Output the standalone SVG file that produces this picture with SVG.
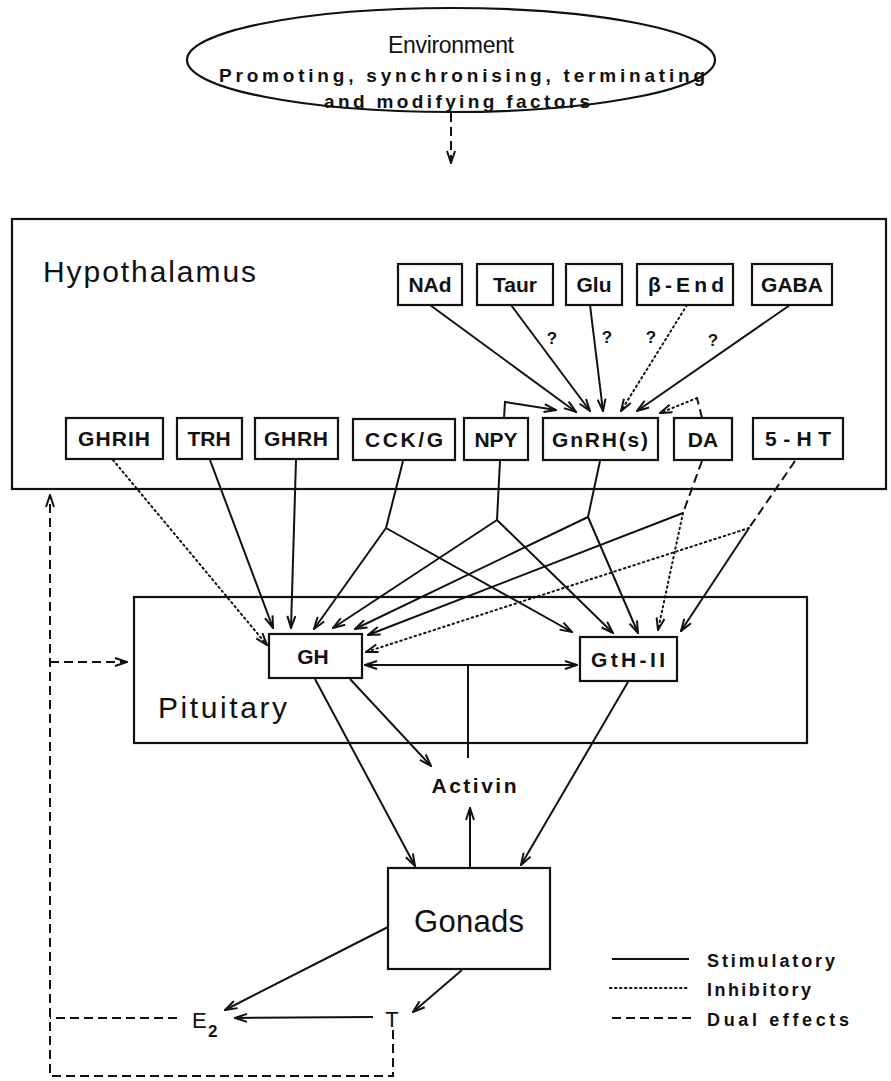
<svg xmlns="http://www.w3.org/2000/svg" width="891" height="1081" viewBox="0 0 891 1081">
<defs>
<style>
.bx{fill:#fff;stroke:#111;stroke-width:2.2}
.fr{fill:none;stroke:#111;stroke-width:2.2}
.lb{font-family:"Liberation Sans",Arial,sans-serif;font-weight:bold;font-size:21px;fill:#111;text-anchor:middle}
.big{font-family:"Liberation Sans",Arial,sans-serif;font-size:30px;fill:#111}
.s{fill:none;stroke:#111;stroke-width:2}
.d{fill:none;stroke:#111;stroke-width:2;stroke-dasharray:1.5 3.5;stroke-linecap:round}
.ds{fill:none;stroke:#111;stroke-width:2;stroke-dasharray:9 5}
.q{font-family:"Liberation Sans",Arial,sans-serif;font-weight:bold;font-size:17px;fill:#111;text-anchor:middle}
.lg{font-family:"Liberation Sans",Arial,sans-serif;font-weight:bold;font-size:18px;fill:#111}
</style>
<marker id="a" viewBox="0 0 14 10" refX="13" refY="5" markerWidth="14" markerHeight="10" markerUnits="userSpaceOnUse" orient="auto-start-reverse">
<path d="M1,1 L13,5 L1,9" fill="none" stroke="#111" stroke-width="2"/>
</marker>
</defs>
<rect width="891" height="1081" fill="#fff"/>

<g id="environment">
<ellipse cx="451" cy="60" rx="264" ry="52" class="fr"/>
<text x="451" y="53" font-family="Liberation Sans,Arial,sans-serif" font-size="23" fill="#111" text-anchor="middle" textLength="126" lengthAdjust="spacing">Environment</text>
<text x="462" y="82" font-family="Liberation Sans,Arial,sans-serif" font-weight="bold" font-size="19" fill="#111" text-anchor="middle" textLength="486" lengthAdjust="spacing">Promoting, synchronising, terminating</text>
<text x="457" y="108" font-family="Liberation Sans,Arial,sans-serif" font-weight="bold" font-size="19" fill="#111" text-anchor="middle" textLength="266" lengthAdjust="spacing">and modifying factors</text>
</g>

<g id="hypothalamus">
<rect x="12" y="219" width="874" height="270" class="fr"/>
<text x="43" y="282" class="big" textLength="213" lengthAdjust="spacing">Hypothalamus</text>
</g>

<g id="NAd"><rect x="398" y="264" width="64" height="41" class="bx"/><text x="430" y="292" class="lb">NAd</text></g>
<g id="Taur"><rect x="477" y="264" width="76" height="41" class="bx"/><text x="515" y="292" class="lb">Taur</text></g>
<g id="Glu"><rect x="566" y="264" width="56" height="41" class="bx"/><text x="594" y="292" class="lb">Glu</text></g>
<g id="bEnd"><rect x="637" y="264" width="96" height="41" class="bx"/><text x="686" y="292" class="lb" textLength="76" lengthAdjust="spacing">β-End</text></g>
<g id="GABA"><rect x="752" y="264" width="80" height="41" class="bx"/><text x="792" y="292" class="lb">GABA</text></g>

<g id="GHRIH"><rect x="66" y="418" width="97" height="41" class="bx"/><text x="114" y="446" class="lb" textLength="72" lengthAdjust="spacing">GHRIH</text></g>
<g id="TRH"><rect x="177" y="418" width="65" height="41" class="bx"/><text x="209" y="446" class="lb">TRH</text></g>
<g id="GHRH"><rect x="255" y="418" width="83" height="41" class="bx"/><text x="296" y="446" class="lb" textLength="64" lengthAdjust="spacing">GHRH</text></g>
<g id="CCKG"><rect x="353" y="419" width="102" height="41" class="bx"/><text x="404" y="447" class="lb" textLength="78" lengthAdjust="spacing">CCK/G</text></g>
<g id="NPY"><rect x="464" y="418" width="64" height="42" class="bx"/><text x="496" y="447" class="lb">NPY</text></g>
<g id="GnRH"><rect x="543" y="418" width="115" height="42" class="bx"/><text x="600" y="447" class="lb" textLength="96" lengthAdjust="spacing">GnRH(s)</text></g>
<g id="DA"><rect x="674" y="418" width="58" height="42" class="bx"/><text x="703" y="447" class="lb">DA</text></g>
<g id="HT5"><rect x="753" y="418" width="90" height="41" class="bx"/><text x="798" y="446" class="lb" textLength="66" lengthAdjust="spacing">5-HT</text></g>

<g id="pituitary">
<rect x="134" y="597" width="673" height="146" class="fr"/>
<text x="158" y="718" class="big" textLength="129" lengthAdjust="spacing">Pituitary</text>
</g>
<g id="GH"><rect x="269" y="634" width="93" height="44" class="bx"/><text x="313" y="664" class="lb">GH</text></g>
<g id="GtHII"><rect x="580" y="637" width="97" height="44" class="bx"/><text x="628" y="667" class="lb" textLength="74" lengthAdjust="spacing">GtH-II</text></g>

<g id="activin"><text x="474" y="793" class="lb" font-size="20" textLength="85" lengthAdjust="spacing">Activin</text></g>

<g id="gonads"><rect x="388" y="868" width="162" height="101" class="bx"/><text x="469" y="932" font-family="Liberation Sans,Arial,sans-serif" font-size="31" fill="#111" text-anchor="middle" textLength="110" lengthAdjust="spacing">Gonads</text></g>

<g id="E2"><text x="192" y="1028" font-family="Liberation Sans,Arial,sans-serif" font-size="22" fill="#111">E</text><text x="208" y="1037" font-family="Liberation Sans,Arial,sans-serif" font-weight="bold" font-size="17" fill="#111">2</text></g>
<g id="T"><text x="392" y="1027" font-family="Liberation Sans,Arial,sans-serif" font-size="22" fill="#111" text-anchor="middle">T</text></g>

<g id="labels">
<text x="552" y="344" class="q">?</text>
<text x="607" y="343" class="q">?</text>
<text x="651" y="343" class="q">?</text>
<text x="713" y="346" class="q">?</text>
</g>

<g id="connectors">
<path d="M451,113 L451,163" class="ds" marker-end="url(#a)"/>
<path d="M430,305 L576,412" class="s" marker-end="url(#a)"/>
<path d="M511,305 L590,411" class="s" marker-end="url(#a)"/>
<path d="M590,305 L603,411" class="s" marker-end="url(#a)"/>
<path d="M687,305 L621,411" class="d" marker-end="url(#a)"/>
<path d="M790,305 L637,411" class="s" marker-end="url(#a)"/>
<path d="M504,418 L505,402 L556,410" class="s" marker-end="url(#a)"/>
<path d="M702,418 L697,398" class="ds"/>
<path d="M697,398 L660,413" class="d" marker-end="url(#a)"/>

<path d="M113,460 L267,645" class="d" marker-end="url(#a)"/>
<path d="M210,460 L273,628" class="s" marker-end="url(#a)"/>
<path d="M296,460 L291,628" class="s" marker-end="url(#a)"/>
<path d="M403,461 L386,528" class="s"/>
<path d="M386,528 L314,629" class="s" marker-end="url(#a)"/>
<path d="M386,528 L572,632" class="s" marker-end="url(#a)"/>
<path d="M500,461 L497,520" class="s"/>
<path d="M497,520 L333,628" class="s" marker-end="url(#a)"/>
<path d="M497,520 L613,633" class="s" marker-end="url(#a)"/>
<path d="M600,461 L588,517" class="s"/>
<path d="M588,517 L355,629" class="s" marker-end="url(#a)"/>
<path d="M588,517 L638,633" class="s" marker-end="url(#a)"/>
<path d="M702,461 L683,513" class="ds"/>
<path d="M683,513 L368,635" class="s" marker-end="url(#a)"/>
<path d="M683,513 L658,630" class="d" marker-end="url(#a)"/>
<path d="M795,461 L749,528" class="ds"/>
<path d="M749,528 L366,652" class="d" marker-end="url(#a)"/>
<path d="M749,528 L681,631" class="s" marker-end="url(#a)"/>

<path d="M365,665 L577,665" class="s" marker-start="url(#a)" marker-end="url(#a)"/>
<path d="M468,665 L468,758" class="s"/>
<path d="M350,679 L431,766" class="s" marker-end="url(#a)"/>
<path d="M315,679 L415,866" class="s" marker-end="url(#a)"/>
<path d="M628,682 L521,865" class="s" marker-end="url(#a)"/>
<path d="M470,868 L470,808" class="s" marker-end="url(#a)"/>
<path d="M388,927 L225,1010" class="s" marker-end="url(#a)"/>
<path d="M462,970 L413,1012" class="s" marker-end="url(#a)"/>
<path d="M373,1017 L235,1018" class="s" marker-end="url(#a)"/>

<path d="M177,1018 L50,1018" class="ds"/>
<path d="M393,1030 L393,1076 L50,1076 L50,495" class="ds" marker-end="url(#a)"/>
<path d="M50,662 L127,662" class="ds" marker-end="url(#a)"/>
</g>

<g id="legend">
<path d="M612,959 L689,959" class="s"/>
<path d="M610,988 L689,988" class="d"/>
<path d="M612,1018 L692,1018" class="ds"/>
<text x="707" y="967" class="lg" textLength="128" lengthAdjust="spacing">Stimulatory</text>
<text x="707" y="996" class="lg" textLength="104" lengthAdjust="spacing">Inhibitory</text>
<text x="707" y="1026" class="lg" textLength="142" lengthAdjust="spacing">Dual effects</text>
</g>
</svg>
